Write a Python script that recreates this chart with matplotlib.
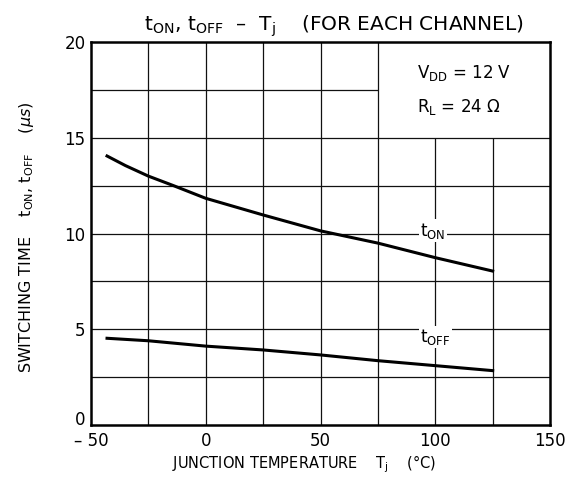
import numpy as np
import matplotlib
matplotlib.use('Agg')
import matplotlib.pyplot as plt
from matplotlib.transforms import ScaledTranslation

# Switching time vs junction temperature
tj_on = [-43, -35, -25, -14, 0, 25, 50, 75, 100, 125]                     # degC
t_on = [14.05, 13.55, 13.0, 12.5, 11.84, 10.97, 10.14, 9.5, 8.74, 8.04]   # us
tj_off = [-43, -25, 0, 25, 50, 75, 100, 125]                              # degC
t_off = [4.53, 4.4, 4.12, 3.92, 3.66, 3.36, 3.1, 2.84]                    # us

x_ticks = [-50, 0, 50, 100, 150]
x_labels = ['\u2013 50', '0', '50', '100', '150']
y_ticks = [0, 5, 10, 15, 20]

plt.rcParams['font.family'] = ['DejaVu Sans']
plt.rcParams['mathtext.default'] = 'regular'

fig = plt.figure(figsize=(5.7, 4.95), dpi=100)
ax = fig.add_axes([0.1596, 0.1414, 0.8054, 0.7736])
ax.set_xlim(-50, 150)
ax.set_ylim(0, 20)

# grid, with the upper right box (75..150, 15..20) kept clear
gc = '#111111'
for xv in [-25, 0, 25, 50]:
    ax.vlines(xv, 0, 20, color=gc, lw=0.9, zorder=1)
for xv in [75, 100, 125]:
    ax.vlines(xv, 0, 15, color=gc, lw=0.9, zorder=1)
ax.vlines(75, 15, 20, color=gc, lw=0.9, zorder=1)
for yv in [2.5, 5, 7.5, 10, 12.5, 15]:
    ax.hlines(yv, -50, 150, color=gc, lw=0.9, zorder=1)
ax.hlines(17.5, -50, 75, color=gc, lw=0.9, zorder=1)

ax.plot(tj_on, t_on, color='black', lw=2.2, zorder=3)
ax.plot(tj_off, t_off, color='black', lw=2.2, zorder=3)

ax.text(99, 10.15, 't$_{ON}$', ha='center', va='center', fontsize=12,
        bbox=dict(facecolor='white', edgecolor='none', pad=1), zorder=4)
ax.text(100, 4.6, 't$_{OFF}$', ha='center', va='center', fontsize=12,
        bbox=dict(facecolor='white', edgecolor='none', pad=1), zorder=4)

ax.text(92, 18.4, 'V$_{DD}$ = 12 V', ha='left', va='center', fontsize=12)
ax.text(92, 16.6, 'R$_L$ = 24 \u03a9', ha='left', va='center', fontsize=12)

for s in ax.spines.values():
    s.set_linewidth(1.8)

ax.set_xticks(x_ticks)
ax.set_xticklabels(x_labels)
ax.set_yticks(y_ticks)
ax.tick_params(length=0, labelsize=12)
ax.tick_params(axis='x', pad=5)
ax.tick_params(axis='y', pad=4)
# lift the y "0" a little so it sits above the "-50"
lab0 = ax.get_yticklabels()[0]
lab0.set_transform(lab0.get_transform() + ScaledTranslation(0, 5 / 72, fig.dpi_scale_trans))

ax.set_xlabel('JUNCTION TEMPERATURE    T$_j$    (\u00b0C)', fontsize=10.5)
ax.xaxis.set_label_coords(0.465, -0.075)
ax.set_ylabel('SWITCHING TIME    t$_{ON}$, t$_{OFF}$    ($\\mathit{\\mu s}$)',
              fontsize=11.5)
ax.yaxis.set_label_coords(-0.12, 0.49)
ax.set_title('t$_{ON}$, t$_{OFF}$  \u2013  T$_j$    (FOR EACH CHANNEL)',
             fontsize=14.5, pad=8, x=0.53)

fig.savefig('out.png', dpi=100)
